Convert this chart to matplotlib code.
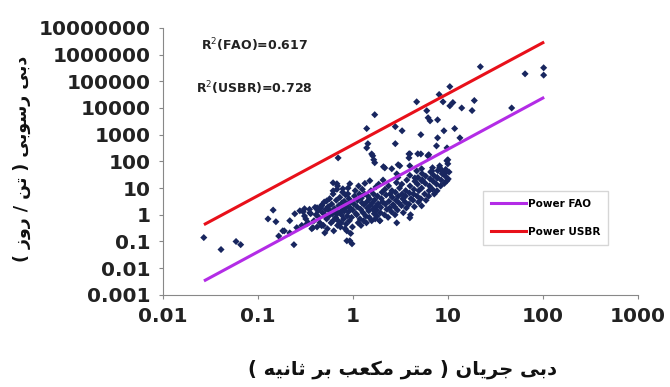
import numpy as np
import matplotlib
matplotlib.use("Agg")
import matplotlib.pyplot as plt

# ---- data (flow m3/s, sediment ton/day) ----
discharge = [
    # far-left outliers
    0.027, 0.041, 0.059, 0.066, 0.145, 0.128, 0.155, 0.24, 0.166, 0.19,
    # left end of the cloud
    0.217, 0.245, 0.277, 0.31, 0.353, 0.42, 0.47, 0.53, 0.62, 0.68, 0.785, 0.886,
    0.183, 0.217, 0.257, 0.328, 0.38, 0.47, 0.507, 0.62, 0.73, 0.865, 0.865, 0.68, 0.785, 0.573,
    # cloud edges
    0.93, 0.98, 1.92, 2.9, 3.98, 5.3, 7.7, 9.8, 0.62, 0.93, 1.51, 2.9, 4.7, 8.2,
    # sparse points above the cloud
    1.62, 1.7, 2.17, 2.57, 3.12, 3.98, 4.83, 6.16, 3.98, 5.3, 6.8, 8.2, 9.77, 7.7, 8.9,
    # upper scattered points
    22, 65, 102, 102, 47, 10.5, 8.1, 4.7, 8.9, 10.5, 11.3, 14, 18, 19, 1.7, 1.4, 2.8, 3.3,
    6.0, 6.2, 6.5, 7.8, 9.1, 11.8, 13.4, 5.2, 2.8, 7.8, 7.6, 1.44, 1.4, 1.58, 1.66, 2.1,
    3.0, 3.9, 3.9, 5.2, 6.3, 9.8, 10, 6.9, 8.7, 4.5, 5.3, 9.3, 10, 0.7,
    # dense cloud
    0.29, 0.31, 0.30, 0.32,
    0.34, 0.36, 0.35, 0.37,
    0.39, 0.41, 0.40, 0.42, 0.43,
    0.44, 0.46, 0.45, 0.47, 0.48,
    0.49, 0.51, 0.50, 0.52, 0.53,
    0.54, 0.56, 0.55, 0.57, 0.58,
    0.59, 0.61, 0.60, 0.62, 0.63, 0.64,
    0.66, 0.67, 0.65, 0.68, 0.69,
    0.70, 0.72, 0.71, 0.73, 0.74, 0.69,
    0.76, 0.77, 0.75, 0.78, 0.79,
    0.80, 0.82, 0.81, 0.83, 0.84, 0.86,
    0.87, 0.88, 0.85, 0.89, 0.90,
    0.92, 0.94, 0.91, 0.95, 0.96,
    0.97, 1.00, 1.02, 1.04, 0.99, 1.06, 1.08,
    1.10, 1.12, 1.14, 1.11, 1.15, 1.17,
    1.19, 1.21, 1.23, 1.25, 1.22, 1.26,
    1.28, 1.31, 1.33, 1.30, 1.34,
    1.37, 1.40, 1.42, 1.44, 1.39,
    1.47, 1.50, 1.52, 1.55, 1.49,
    1.58, 1.60, 1.63, 1.65,
    1.68, 1.70, 1.73, 1.75, 1.72,
    1.78, 1.82, 1.85, 1.80, 1.87,
    1.93, 1.97, 2.00, 2.03, 2.06, 1.95, 2.08,
    2.15, 2.20, 2.24, 2.18, 2.28,
    2.35, 2.40, 2.44, 2.38, 2.47,
    2.55, 2.60, 2.65, 2.58,
    2.75, 2.80, 2.85, 2.78, 2.88,
    2.95, 3.00, 3.05, 3.10, 2.98,
    3.25, 3.30, 3.35, 3.40, 3.28,
    3.55, 3.60, 3.66, 3.70, 3.58,
    3.90, 3.95, 4.00, 4.05, 4.10, 3.98,
    4.30, 4.40, 4.45, 4.50, 4.35,
    4.75, 4.80, 4.90, 4.85, 4.95,
    5.20, 5.30, 5.40, 5.35,
    5.70, 5.80, 5.90, 5.85,
    6.30, 6.40, 6.50, 6.35, 6.60,
    6.90, 7.00, 7.10, 7.20,
    7.60, 7.75, 7.85,
    8.40, 8.50, 8.70,
    9.20, 9.40, 9.50,
    10.1, 10.3,
]

sediment = [
    0.14, 0.05, 0.10, 0.076, 1.5, 0.7, 0.55, 0.076, 0.16, 0.25,
    0.6, 1.09, 1.41, 1.68, 1.19, 1.83, 2.17, 3.3, 7.9, 14.5, 9.4, 6.1,
    0.25, 0.21, 0.33, 0.46, 0.33, 0.39, 0.21, 0.6, 0.46, 0.25, 0.106, 1.09, 1.41, 1.41,
    0.106, 0.082, 0.6, 0.5, 0.77, 2.17, 7.9, 18.8, 15.8, 14.5, 18.8, 34, 44, 57,
    162, 89, 57, 53, 68, 192, 192, 162, 68, 53, 44, 68, 105, 24, 34,
    3.5e5, 1.9e5, 3.2e5, 1.7e5, 1.0e4, 6.3e4, 3.2e4, 1.7e4, 1.7e4, 1.2e4, 1.6e4, 1.0e4, 8000, 1.9e4, 5600, 1700, 2000, 1400,
    7900, 4300, 3300, 3600, 1400, 1700, 760, 1000, 460, 760, 380, 460, 320, 190, 115, 63,
    75, 190, 135, 190, 178, 320, 115, 58, 45, 24, 19, 35, 81, 135,
    0.4, 0.9, 1.3, 0.7,
    0.5, 1.1, 1.6, 0.3,
    0.6, 1.0, 1.9, 0.35, 1.4,
    0.8, 1.8, 0.5, 2.3, 1.2,
    0.4, 1.0, 3.0, 1.6, 0.7,
    0.3, 0.9, 2.0, 4.0, 1.3,
    0.5, 1.1, 2.5, 6.0, 0.25, 1.7,
    0.8, 3.5, 1.5, 9.0, 0.4,
    0.6, 1.2, 2.2, 4.5, 0.35, 12,
    1.0, 2.8, 0.5, 7.0, 1.6,
    0.7, 1.4, 3.2, 0.3, 5.5, 2.0,
    0.9, 2.5, 0.45, 10, 1.3,
    0.6, 1.8, 4.0, 0.2, 3.0,
    0.8, 1.5, 2.6, 5.0, 0.35, 8.0, 1.1,
    1.0, 3.5, 0.5, 2.0, 12, 6.0,
    0.7, 1.6, 4.2, 2.8, 0.4, 9.0,
    1.2, 2.4, 6.0, 0.6, 15,
    0.9, 3.0, 1.8, 5.0, 0.5,
    1.4, 4.0, 2.2, 8.0, 0.8,
    0.6, 2.8, 1.6, 6.0,
    1.1, 3.6, 2.0, 11, 0.7,
    1.5, 5.0, 2.6, 0.9, 14,
    0.6, 1.9, 4.0, 7.0, 3.0, 1.2, 20,
    1.0, 2.5, 5.5, 9.0, 1.6,
    0.8, 3.2, 1.8, 12, 6.0,
    1.3, 4.5, 2.4, 8.0,
    2.0, 7.0, 3.5, 1.0, 16,
    1.5, 5.0, 2.8, 10, 25,
    2.2, 6.0, 4.0, 1.2, 14,
    3.0, 8.0, 1.8, 20, 5.0,
    2.5, 6.5, 12, 1.0, 4.0, 30,
    3.5, 9.0, 2.0, 18, 6.0,
    5.0, 14, 3.0, 25, 8.0,
    4.0, 10, 20, 35,
    6.0, 15, 3.5, 28,
    5.0, 12, 22, 8.0, 40,
    9.0, 18, 30, 6.0,
    14, 25, 45,
    12, 20, 35,
    15, 28, 50,
    22, 40,
]

# power trend lines  Qs = a * Q^b
fit_names = ["Power FAO", "Power USBR"]
fit_a = [3.4, 420.0]
fit_b = [1.92, 1.91]
fit_range = [0.028, 100]
r2_labels = ["R$^2$(FAO)=0.617", "R$^2$(USBR)=0.728"]

x_ticks = [0.01, 0.1, 1, 10, 100, 1000]
x_tick_labels = ["0.01", "0.1", "1", "10", "100", "1000"]
y_ticks = [1e-3, 1e-2, 1e-1, 1, 10, 100, 1e3, 1e4, 1e5, 1e6, 1e7]
y_tick_labels = ["0.001", "0.01", "0.1", "1", "10", "100", "1000", "10000",
                 "100000", "1000000", "10000000"]

x_title = "دبی جریان ( متر مکعب بر ثانیه )"
y_title = "دبی رسوبی ( تن / روز )"

# presentation forms: isolated, final, initial, medial
FORMS = {
    'ا': ('\uFE8D', '\uFE8E', None, None),
    'ب': ('\uFE8F', '\uFE90', '\uFE91', '\uFE92'),
    'ت': ('\uFE95', '\uFE96', '\uFE97', '\uFE98'),
    'ث': ('\uFE99', '\uFE9A', '\uFE9B', '\uFE9C'),
    'ج': ('\uFE9D', '\uFE9E', '\uFE9F', '\uFEA0'),
    'د': ('\uFEA9', '\uFEAA', None, None),
    'ر': ('\uFEAD', '\uFEAE', None, None),
    'ز': ('\uFEAF', '\uFEB0', None, None),
    'س': ('\uFEB1', '\uFEB2', '\uFEB3', '\uFEB4'),
    'ع': ('\uFEC9', '\uFECA', '\uFECB', '\uFECC'),
    'م': ('\uFEE1', '\uFEE2', '\uFEE3', '\uFEE4'),
    'ن': ('\uFEE5', '\uFEE6', '\uFEE7', '\uFEE8'),
    'ه': ('\uFEE9', '\uFEEA', '\uFEEB', '\uFEEC'),
    'و': ('\uFEED', '\uFEEE', None, None),
    'ک': ('\uFB8E', '\uFB8F', '\uFB90', '\uFB91'),
    'ی': ('\uFBFC', '\uFBFD', '\uFBFE', '\uFBFF'),
}


def persian(text):
    # join letters and put them in visual (left to right) order
    out = []
    for i, ch in enumerate(text):
        if ch not in FORMS:
            out.append(ch)
            continue
        prev = text[i - 1] if i > 0 else ''
        nxt = text[i + 1] if i + 1 < len(text) else ''
        join_prev = prev in FORMS and FORMS[prev][2] is not None
        join_next = nxt in FORMS and FORMS[ch][2] is not None
        iso, fin, ini, med = FORMS[ch]
        if join_prev and join_next:
            out.append(med)
        elif join_prev:
            out.append(fin)
        elif join_next:
            out.append(ini)
        else:
            out.append(iso)
    mirror = {'(': ')', ')': '('}
    return ''.join(mirror.get(c, c) for c in reversed(out))


def main():
    fig = plt.figure(figsize=(6.7, 3.87), dpi=100)
    ax = fig.add_axes([0.243, 0.238, 0.709, 0.69])

    ax.scatter(discharge, sediment, marker='D', s=13, color='#18265f',
               edgecolors='none', zorder=2)

    colors = ['#b32ce6', '#e8101a']
    xs = np.logspace(np.log10(fit_range[0]), np.log10(fit_range[1]), 50)
    for name, a, b, c in zip(fit_names, fit_a, fit_b, colors):
        ax.plot(xs, a * xs ** b, color=c, lw=2.2, label=name, zorder=3)

    ax.set_xscale('log')
    ax.set_yscale('log')
    ax.set_xlim(0.01, 1000)
    ax.set_ylim(0.001, 1e7)
    ax.xaxis.set_major_locator(matplotlib.ticker.FixedLocator(x_ticks))
    ax.yaxis.set_major_locator(matplotlib.ticker.FixedLocator(y_ticks))
    ax.xaxis.set_minor_locator(matplotlib.ticker.NullLocator())
    ax.yaxis.set_minor_locator(matplotlib.ticker.NullLocator())
    ax.set_xticklabels(x_tick_labels, fontsize=14.5, fontweight='bold', color='#222222')
    ax.set_yticklabels(y_tick_labels, fontsize=14.5, fontweight='bold', color='#222222')
    ax.tick_params(length=3, color='#888888', pad=6)
    ax.tick_params(axis='y', pad=6)

    for side in ['top', 'right']:
        ax.spines[side].set_visible(False)
    for side in ['left', 'bottom']:
        ax.spines[side].set_color('#888888')

    ax.text(0.08, 0.935, r2_labels[0], transform=ax.transAxes, fontsize=9,
            fontweight='bold', color='#222222', va='center')
    ax.text(0.07, 0.775, r2_labels[1], transform=ax.transAxes, fontsize=9,
            fontweight='bold', color='#222222', va='center')

    leg = ax.legend(loc='upper left', bbox_to_anchor=(0.663, 0.41),
                    prop={'weight': 'bold', 'size': 7.5}, handlelength=3.3,
                    labelspacing=1.7, fancybox=False, edgecolor='#cccccc',
                    borderpad=0.8, handletextpad=0.2)
    leg.get_frame().set_linewidth(1.0)

    fig.text(0.6, 0.045, persian(x_title), fontsize=14, fontweight='bold',
             ha='center', va='center', color='#111111')
    fig.text(0.033, 0.59, persian(y_title), fontsize=12.5, fontweight='bold',
             ha='center', va='center', rotation=90, color='#111111')

    fig.savefig('out.png', dpi=100)


if __name__ == "__main__":
    main()
